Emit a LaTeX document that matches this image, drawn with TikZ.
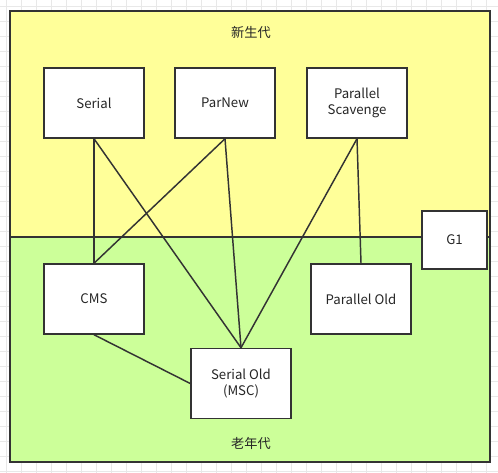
\documentclass[tikz,border=0pt]{standalone}
\usepackage{fontspec}
\setmainfont{Noto Sans CJK SC}
\definecolor{linec}{HTML}{333333}
\definecolor{txt}{HTML}{262626}
\definecolor{young}{HTML}{FFFF99}
\definecolor{old}{HTML}{CCFF99}
\definecolor{gridc}{HTML}{E8E8E8}
\begin{document}
\begin{tikzpicture}[x=0.75pt,y=-0.75pt,
  gridline/.style={draw=gridc, line width=0.75pt},
  region/.style={draw=linec, line width=1.2pt},
  box/.style={draw=linec, fill=white, line width=1.1pt, minimum width=75pt, minimum height=52.5pt,
    align=center, inner sep=0pt, text=txt, font=\fontsize{9.9}{12}\selectfont},
  conn/.style={draw=linec, line width=1.1pt},
  label/.style={text=txt, font=\fontsize{9.9}{12}\selectfont, inner sep=0pt}]
\useasboundingbox (0,0) rectangle (498,473);
\fill[white] (0,0) rectangle (498,473);
\foreach \i in {0,...,32}{
  \draw[gridline] ({6.7+15*\i},0) -- ({6.7+15*\i},473);
  \draw[gridline] (0,{6.7+15*\i}) -- (498,{6.7+15*\i});
}
% regions
\fill[young] (10,11) rectangle (490,237);
\fill[old] (10,237) rectangle (490,462);
\draw[region] (10,237) -- (490,237);
\draw[region] (10,11) rectangle (490,462);
\node[label] (younglbl) at (251,32) {新生代};
\node[label] (oldlbl) at (251,443) {老年代};
% nodes
\node[box] (serial) at (94,103) {Serial};
\node[box] (parnew) at (225,103) {ParNew};
\node[box] (ps) at (357,103) {Parallel\\Scavenge};
\node[box] (cms) at (94,299) {CMS};
\node[box] (pold) at (361,299) {Parallel Old};
\node[box] (sold) at (241,383.5) {Serial Old\\(MSC)};
% connectors
\draw[conn] (serial.south) -- (cms.north);
\draw[conn] (serial.south) -- (sold.north);
\draw[conn] (parnew.south) -- (cms.north);
\draw[conn] (parnew.south) -- (sold.north);
\draw[conn] (ps.south) -- (sold.north);
\draw[conn] (ps.south) -- (pold.north);
\draw[conn] (cms.south) -- (sold.west);
\node[box, minimum width=48.75pt, minimum height=43.5pt] (g1) at (454.5,240) {G1};
\end{tikzpicture}
\end{document}
